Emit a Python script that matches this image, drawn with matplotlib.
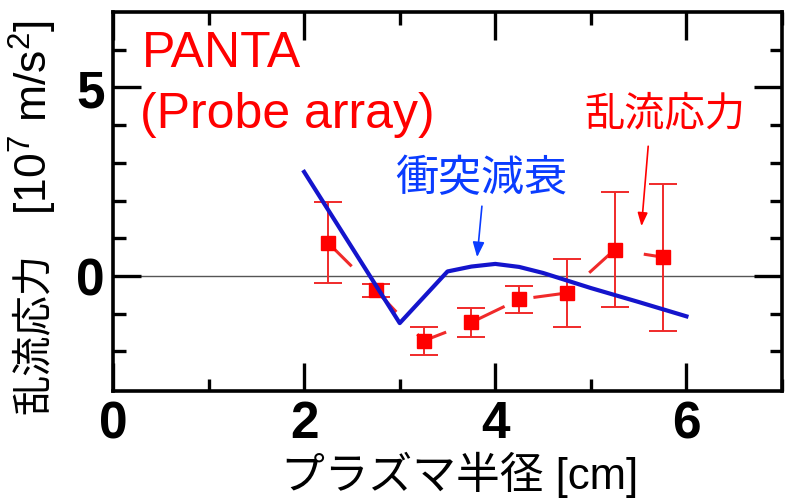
import matplotlib
matplotlib.use("Agg")
import matplotlib.pyplot as plt
import numpy as np

plt.rcParams['mathtext.fontset'] = 'custom'
plt.rcParams['mathtext.rm'] = 'Liberation Sans'
plt.rcParams['mathtext.it'] = 'Liberation Sans'
plt.rcParams['mathtext.default'] = 'rm'
plt.rcParams['lines.scale_dashes'] = False

# ---- data ----
stress_x = [2.25, 2.75, 3.25, 3.75, 4.25, 4.75, 5.25, 5.75]
stress_y = [0.88, -0.38, -1.72, -1.23, -0.62, -0.45, 0.70, 0.50]
stress_err = [1.07, 0.18, 0.38, 0.39, 0.36, 0.90, 1.53, 1.95]

damp_x = [2.0, 3.0, 3.5, 3.75, 4.0, 4.25, 4.5, 5.0, 5.5, 6.0]
damp_y = [2.76, -1.25, 0.12, 0.25, 0.32, 0.24, 0.08, -0.32, -0.69, -1.07]

xticks = [0, 2, 4, 6]
yticks = [0, 5]

RED = '#ff0000'
EBAR = '#f02a2a'
BLUE_LINE = '#1414cc'
BLUE_TXT = '#0a3cff'

W, H = 786, 502
fig = plt.figure(figsize=(W/100, H/100), dpi=100)
ax = fig.add_axes([113/W, 1-392/H, (782-113)/W, (392-13)/H])
ax.set_xlim(0, 7)
ax.set_ylim(-3.05, 7)

ax.axhline(0, color='#555555', lw=1.0, zorder=1)

ax.plot(stress_x, stress_y, color=EBAR, lw=2.2, linestyle=(0, (24, 22)), zorder=2)
ax.errorbar(stress_x, stress_y, yerr=stress_err, fmt='s', color=EBAR, ecolor=EBAR,
            elinewidth=1.4, capsize=10, capthick=1.4, markersize=10,
            markerfacecolor=RED, markeredgecolor=RED, zorder=3)

ax.plot(damp_x, damp_y, color=BLUE_LINE, lw=3.0, zorder=4)

for s in ax.spines.values():
    s.set_linewidth(2.6)

ax.set_xticks(xticks)
ax.set_xticks([1, 3, 5, 7], minor=True)
ax.set_yticks(yticks)
ax.set_yticks([-2, -1, 1, 2, 3, 4, 6], minor=True)
ax.tick_params(which='both', direction='in', top=True, right=True, width=2.4)
ax.tick_params(which='major', length=20, pad=6)
ax.tick_params(which='minor', length=9)
ax.set_xticklabels([str(v) for v in xticks], fontsize=37, fontweight='bold',
                   family='Liberation Sans')
ax.set_yticklabels([str(v) for v in yticks], fontsize=37, fontweight='bold',
                   family='Liberation Sans')

# x label
fig.text(460/W, 1-475/H, 'プラズマ半径 [cm]', fontsize=31.5,
         family=['Liberation Sans', 'Noto Sans CJK JP'], ha='center', va='center')
# y label (two parts: Japanese + units)
fig.text(33/W, 1-334/H, '乱流応力', fontsize=29, family='Noto Sans CJK JP',
         rotation=90, ha='center', va='center')
fig.text(33/W, 1-118/H, '[10$^7$ m/s$^2$]', fontsize=32, family='Liberation Sans',
         rotation=90, ha='center', va='center')

ax.text(0.30, 5.56, 'PANTA', color=RED, fontsize=36, family='Liberation Sans',
        ha='left', va='baseline')
ax.text(0.28, 3.94, '(Probe array)', color=RED, fontsize=36, family='Liberation Sans',
        ha='left', va='baseline')

ax.text(3.85, 2.59, '衝突減衰', color=BLUE_TXT, fontsize=31, family='Noto Sans CJK JP',
        ha='center', va='center')
ax.text(5.77, 4.33, '乱流応力', color=RED, fontsize=29, family='Noto Sans CJK JP',
        ha='center', va='center')

ax.annotate('', xy=(3.81, 0.50), xytext=(3.86, 1.85),
            arrowprops=dict(arrowstyle='-|>,head_length=0.9,head_width=0.35',
                            color=BLUE_TXT, lw=1.2, shrinkA=0, shrinkB=0))
ax.annotate('', xy=(5.53, 1.32), xytext=(5.60, 3.44),
            arrowprops=dict(arrowstyle='-|>,head_length=0.8,head_width=0.3',
                            color=RED, lw=1.2, shrinkA=0, shrinkB=0))

fig.savefig('out.png', dpi=100)
